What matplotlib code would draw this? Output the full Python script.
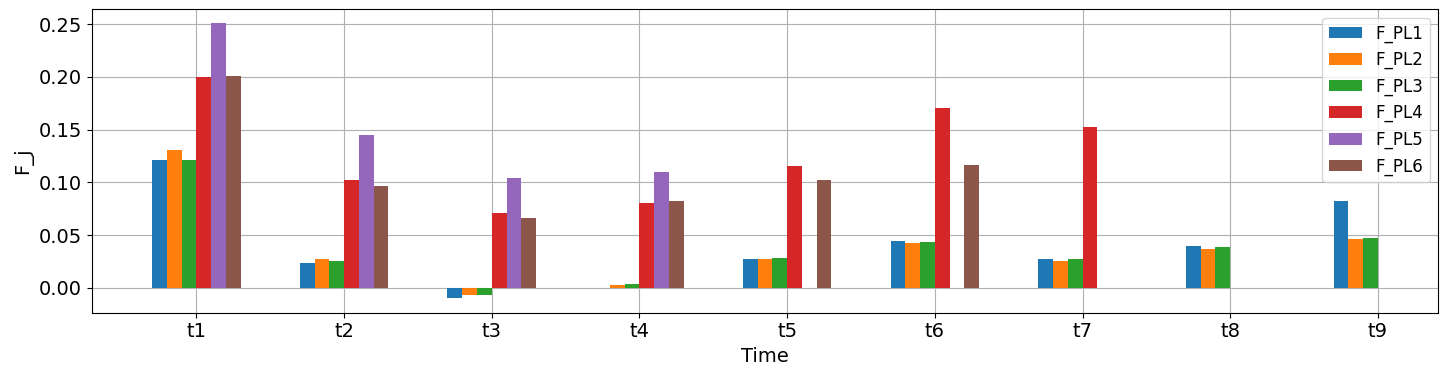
import numpy as np
import matplotlib
matplotlib.use("Agg")
import matplotlib.pyplot as plt

# Данные
times = ["t1", "t2", "t3", "t4", "t5", "t6", "t7", "t8", "t9"]
F_PL1 = [0.121, 0.023, -0.010, 0.000, 0.027, 0.044, 0.027, 0.040, 0.082]
F_PL2 = [0.131, 0.027, -0.007, 0.003, 0.027, 0.042, 0.025, 0.037, 0.046]
F_PL3 = [0.121, 0.025, -0.007, 0.004, 0.028, 0.043, 0.027, 0.039, 0.047]
F_PL4 = [0.200, 0.102, 0.071, 0.080, 0.115, 0.170, 0.152, 0.000, 0.000]
F_PL5 = [0.251, 0.145, 0.104, 0.110, 0.000, 0.000, 0.000, 0.000, 0.000]
F_PL6 = [0.201, 0.096, 0.066, 0.082, 0.102, 0.116, 0.000, 0.000, 0.000]

series = [F_PL1, F_PL2, F_PL3, F_PL4, F_PL5, F_PL6]
names = ["F_PL1", "F_PL2", "F_PL3", "F_PL4", "F_PL5", "F_PL6"]

x = np.arange(len(times))
width = 0.1

fig, ax = plt.subplots(figsize=(14.53, 3.71), dpi=100)
for i, (vals, name) in enumerate(zip(series, names)):
    ax.bar(x + (i - 2.5) * width, vals, width, label=name, zorder=2)

ax.set_xticks(x)
ax.set_xticklabels(times)
ax.set_xlim(-0.71, 8.41)
ax.set_ylim(-0.0237, 0.264)
ax.tick_params(labelsize=14)
ax.set_xlabel("Time", fontsize=14)
ax.set_ylabel("F_j", fontsize=14)
ax.grid(True, color="#b0b0b0", zorder=0)
ax.set_axisbelow(True)
ax.legend(fontsize=12, loc="upper right")

plt.subplots_adjust(left=0.063, right=0.99, top=0.975, bottom=0.157)
plt.savefig("out.png", dpi=100)
